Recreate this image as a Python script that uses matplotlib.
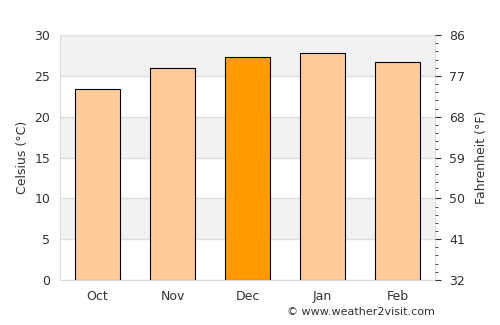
import matplotlib
matplotlib.use("Agg")
import matplotlib.pyplot as plt
import numpy as np

months = ["Oct", "Nov", "Dec", "Jan", "Feb"]
celsius = [23.35, 25.92, 27.27, 27.76, 26.66]
highlight = "Dec"
c_ticks = [0, 5, 10, 15, 20, 25, 30]
f_ticks = [32, 41, 50, 59, 68, 77, 86]

txt = "#333333"
fig = plt.figure(figsize=(5, 3.25), dpi=100)
ax = fig.add_axes([0.12, 0.1385, 0.75, 0.7535])

# background bands
for i, lo in enumerate(range(0, 30, 5)):
    if i % 2 == 1:
        ax.axhspan(lo, lo + 5, color="#f2f2f2", zorder=0, lw=0)
for y in c_ticks:
    ax.axhline(y, color="#dddddd", lw=1, zorder=0.5)

x = np.arange(len(months))
colors = ["#ff9900" if m == highlight else "#ffcc99" for m in months]
ax.bar(x, celsius, width=0.6, color=colors, edgecolor="black", linewidth=0.8, zorder=2)

ax.set_xlim(-0.5, len(months) - 0.5)
ax.set_ylim(0, 30)
ax.set_xticks(x)
ax.set_xticklabels(months)
ax.set_yticks(c_ticks)
ax.tick_params(axis="both", length=0, colors=txt, labelsize=9, pad=7)
ax.set_ylabel("Celsius (°C)", color=txt, fontsize=9, labelpad=4)
for s in ax.spines.values():
    s.set_color("#dddddd")
ax.spines["top"].set_visible(False)

ax2 = ax.twinx()
ax2.set_ylim(32, 86)
ax2.set_yticks(f_ticks)
ax2.set_yticks(np.arange(32, 86.01, 1.8), minor=True)
ax2.tick_params(axis="y", which="major", length=4, colors=txt, labelsize=9, pad=6)
ax2.tick_params(axis="y", which="minor", length=2.5, colors=txt)
ax2.set_ylabel("Fahrenheit (°F)", color=txt, fontsize=9, labelpad=7)
for s in ax2.spines.values():
    s.set_visible(False)

fig.text(0.87, 0.025, "© www.weather2visit.com", ha="right", va="bottom", color=txt, fontsize=8)

fig.savefig("out.png", dpi=100)
